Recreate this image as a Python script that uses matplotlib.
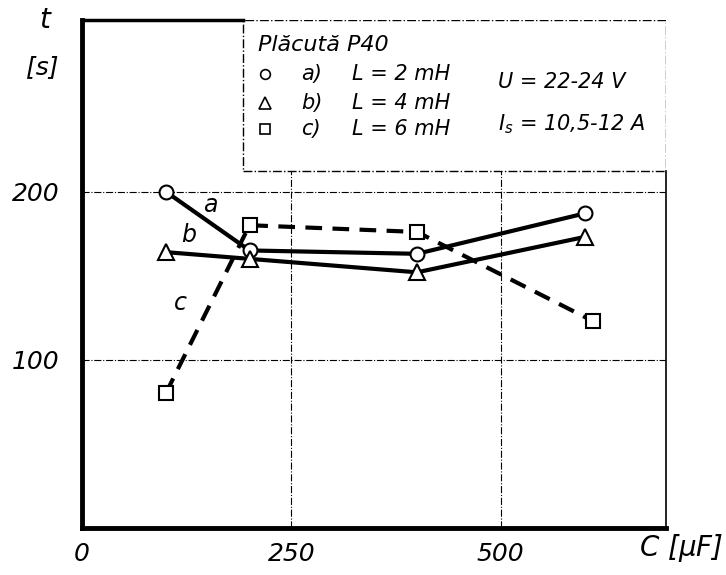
import matplotlib.pyplot as plt
import matplotlib.patches as mpatches

plt.rcParams['font.family'] = ['DejaVu Sans']

# capacity C [uF] and time t [s]
C_a = [100, 200, 400, 600]
t_a = [200, 165, 163, 187]
C_b = [100, 200, 400, 600]
t_b = [164, 160, 152, 173]
C_c = [100, 200, 400, 610]
t_c = [80, 180, 176, 123]

x_ticks = [0, 250, 500]
y_ticks = [100, 200]

fig = plt.figure(figsize=(7.26, 5.75), dpi=100)
ax = fig.add_axes([0.113, 0.082, 0.804, 0.883])
ax.set_xlim(0, 697)
ax.set_ylim(0, 302)

fs = dict(style='italic', fontweight='light')

# grid (dash-dot, thin)
for yv in y_ticks:
    ax.plot([0, 697], [yv, yv], color='black', lw=0.8, ls='-.', zorder=1)
for xv in x_ticks[1:]:
    ax.plot([xv, xv], [0, 212], color='black', lw=0.8, ls='-.', zorder=1)

# curves
ax.plot(C_a, t_a, color='black', lw=3, marker='o', ms=10, mfc='white',
        mec='black', mew=1.5, zorder=4)
ax.plot(C_b, t_b, color='black', lw=3, marker='^', ms=11, mfc='white',
        mec='black', mew=1.5, zorder=4)
ax.plot(C_c, t_c, color='black', lw=3, ls=(0, (4, 2.5)), marker='s', ms=10,
        mfc='white', mec='black', mew=1.5, zorder=3)

ax.text(153, 192, 'a', fontsize=17, ha='center', va='center', **fs)
ax.text(127, 174, 'b', fontsize=17, ha='center', va='center', **fs)
ax.text(117, 134, 'c', fontsize=17, ha='center', va='center', **fs)

# legend box in upper right
box_x0, box_y0 = 192, 212
ax.add_patch(mpatches.Rectangle((box_x0, box_y0), 697 - box_x0, 302 - box_y0,
                                fill=True, facecolor='white', edgecolor='black',
                                lw=1, ls='-.', zorder=2))
ax.text(210, 287, 'Plăcută P40', fontsize=16, va='center', **fs)
ax.plot([218], [270], marker='o', ms=7, mfc='white', mec='black', mew=1.2,
        clip_on=False, zorder=5)
ax.plot([218], [253], marker='^', ms=8, mfc='white', mec='black', mew=1.2,
        clip_on=False, zorder=5)
ax.plot([218], [237], marker='s', ms=7, mfc='white', mec='black', mew=1.2,
        clip_on=False, zorder=5)
ax.text(262, 270, 'a)', fontsize=15, va='center', **fs)
ax.text(262, 253, 'b)', fontsize=15, va='center', **fs)
ax.text(262, 237, 'c)', fontsize=15, va='center', **fs)
ax.text(322, 270, 'L = 2 mH', fontsize=15, va='center', **fs)
ax.text(322, 253, 'L = 4 mH', fontsize=15, va='center', **fs)
ax.text(322, 237, 'L = 6 mH', fontsize=15, va='center', **fs)
ax.text(497, 265, 'U = 22-24 V', fontsize=15, va='center', **fs)
ax.text(497, 240, r'$I_s$ = 10,5-12 A', fontsize=15, va='center', **fs)

# axes frame
for s in ['top', 'right']:
    ax.spines[s].set_visible(False)
ax.spines['left'].set_linewidth(3.5)
ax.spines['bottom'].set_linewidth(3.5)
ax.plot([0, box_x0], [302, 302], color='black', lw=2.5, clip_on=False, zorder=5)
ax.plot([697, 697], [0, box_y0], color='black', lw=1.2, clip_on=False, zorder=5)

ax.set_xticks(x_ticks)
ax.set_yticks(y_ticks)
ax.set_xticklabels([str(v) for v in x_ticks], fontsize=18, **fs)
ax.set_yticklabels([str(v) for v in y_ticks], fontsize=18, **fs)
ax.tick_params(axis='x', length=0, pad=10)
ax.tick_params(axis='y', length=0, pad=16)

ax.text(-45, 302, 't', fontsize=20, ha='center', va='center', **fs)
ax.text(-48, 274, '[s]', fontsize=18, ha='center', va='center', **fs)
ax.text(715, -12, r'C [$\mu$F]', fontsize=20, ha='center', va='center', **fs)

fig.savefig('out.png', dpi=100)
